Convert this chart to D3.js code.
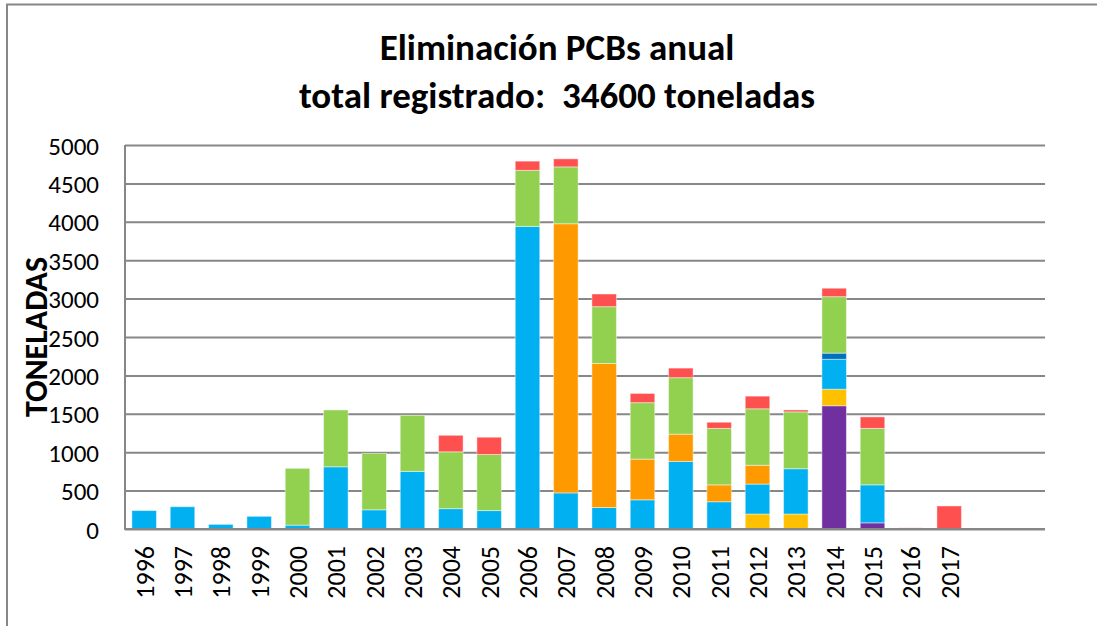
<!DOCTYPE html>
<html>
<head>
<meta charset="utf-8">
<script src="https://cdn.jsdelivr.net/npm/d3@7"></script>
<style>
  body { margin: 0; background: #fff; }
  svg text { font-family: Carlito, Lato, sans-serif; fill: #000; }
  .grid line { stroke: #878787; stroke-width: 2; }
  .grid path { display: none; }
  .tick-y text { font-size: 25px; }
  .tick-x text { font-size: 26px; }
</style>
</head>
<body>
<div id="chart"></div>
<script>
// data (toneladas)
var years = ["1996","1997","1998","1999","2000","2001","2002","2003","2004","2005","2006",
             "2007","2008","2009","2010","2011","2012","2013","2014","2015","2016","2017"];
var purple   = [0,0,0,0,0,0,0,0,0,0,0,0,0,0,0,0,0,0,1605,80,0,0];
var yellow   = [0,0,0,0,0,0,0,0,0,0,0,0,0,0,0,0,195,195,215,0,0,0];
var blue     = [240,290,60,165,50,810,250,750,265,240,3940,470,280,380,880,355,390,590,390,495,0,0];
var darkBlue = [0,0,0,0,0,0,0,0,0,0,0,0,0,0,0,0,0,0,80,0,0,0];
var orange   = [0,0,0,0,0,0,0,0,0,0,0,3505,1875,530,355,220,245,0,0,0,0,0];
var green    = [0,0,0,0,740,740,735,730,740,730,730,740,740,735,735,735,735,740,735,735,0,0];
var red      = [0,0,0,0,0,0,0,0,215,225,120,105,165,120,125,80,165,25,110,150,15,300];
var yTicks   = [0,500,1000,1500,2000,2500,3000,3500,4000,4500,5000];
var slots    = 24; // two empty categories after 2017

var seriesList = [
    {name: "purple",   values: purple,   color: "#7030A0"},
    {name: "yellow",   values: yellow,   color: "#FFC000"},
    {name: "blue",     values: blue,     color: "#00B0F0"},
    {name: "darkBlue", values: darkBlue, color: "#0070C0"},
    {name: "orange",   values: orange,   color: "#FF9900"},
    {name: "green",    values: green,    color: "#92D050"},
    {name: "red",      values: red,      color: "#FF5050"}
];

var width = 1097, height = 626;
var plot = {left: 125, right: 1045, top: 145, bottom: 529};

var svg = d3.select("#chart")
    .append("svg")
    .attr("width", width)
    .attr("height", height);

// outer frame (only top and left edges show)
svg.append("path")
    .attr("d", "M7," + height + "V4.5H" + width)
    .attr("fill", "none")
    .attr("stroke", "#878787")
    .attr("stroke-width", 2);

var x = d3.scaleBand()
    .domain(d3.range(slots))
    .range([plot.left, plot.right])
    .paddingInner(0.36)
    .paddingOuter(0.18);

var y = d3.scaleLinear()
    .domain([0, 5000])
    .range([plot.bottom, plot.top]);

// gridlines + y labels
var yAxis = svg.append("g")
    .attr("class", "grid tick-y")
    .attr("transform", "translate(" + plot.left + ",0)")
    .call(d3.axisLeft(y)
        .tickValues(yTicks)
        .tickSize(-(plot.right - plot.left))
        .tickPadding(26)
        .tickFormat(d3.format("d")));
yAxis.selectAll("text").attr("dy", "0.36em");

// stacked data
var table = years.map(function(yr, i) {
    var row = {i: i};
    seriesList.forEach(function(s) { row[s.name] = s.values[i]; });
    return row;
});
var stacked = d3.stack()
    .keys(seriesList.map(function(s) { return s.name; }))(table);

svg.append("g")
    .selectAll("g")
    .data(stacked)
    .enter()
    .append("g")
    .attr("fill", function(d, k) { return seriesList[k].color; })
    .selectAll("rect")
    .data(function(d) { return d.filter(function(p) { return p[1] > p[0]; }); })
    .enter()
    .append("rect")
    .attr("x", function(p) { return x(p.data.i); })
    .attr("width", x.bandwidth())
    .attr("y", function(p) { return y(p[1]); })
    .attr("height", function(p) { return y(p[0]) - y(p[1]); })
    .attr("stroke", "#fff")
    .attr("stroke-opacity", 0.45)
    .attr("stroke-width", 1);

// axis lines
svg.append("line")
    .attr("x1", plot.left).attr("x2", plot.left)
    .attr("y1", plot.top).attr("y2", plot.bottom)
    .attr("stroke", "#878787").attr("stroke-width", 2);
svg.append("line")
    .attr("x1", plot.left - 1).attr("x2", plot.right)
    .attr("y1", plot.bottom).attr("y2", plot.bottom)
    .attr("stroke", "#878787").attr("stroke-width", 2);

// x labels, rotated
var xAxis = svg.append("g")
    .attr("class", "tick-x")
    .attr("transform", "translate(0," + plot.bottom + ")")
    .call(d3.axisBottom(x)
        .tickSize(0)
        .tickFormat(function(i) { return years[i] || ""; }));
xAxis.select(".domain").remove();
xAxis.selectAll("text")
    .attr("transform", "rotate(-90)")
    .attr("text-anchor", "end")
    .attr("x", -17)
    .attr("y", 0)
    .attr("dy", "0.36em");

// y title
svg.append("text")
    .attr("transform", "translate(47,337) rotate(-90)")
    .attr("text-anchor", "middle")
    .style("font-size", "32px")
    .style("font-weight", "bold")
    .text("TONELADAS");

// chart title
var title = svg.append("text")
    .attr("text-anchor", "middle")
    .attr("xml:space", "preserve")
    .style("font-size", "37px")
    .style("font-weight", "bold");
title.append("tspan").attr("x", 557).attr("y", 60).text("Eliminación PCBs anual");
title.append("tspan").attr("x", 557).attr("y", 108).text("total registrado:  34600 toneladas");
</script>
</body>
</html>
